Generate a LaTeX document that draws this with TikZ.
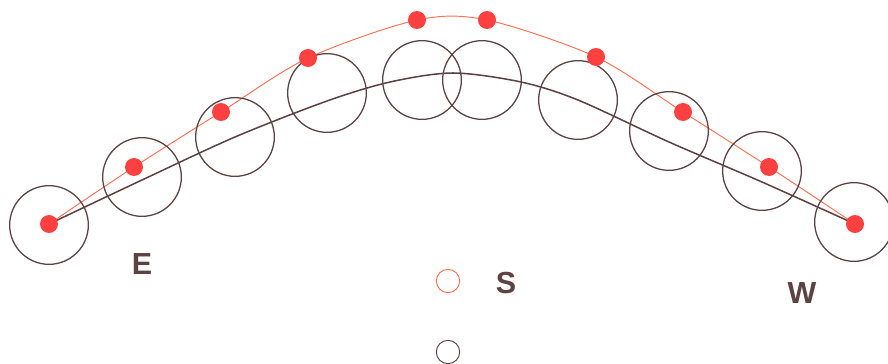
\documentclass[tikz,border=0pt]{standalone}
\usepackage{fontspec}
\setmainfont{Liberation Sans}
\usetikzlibrary{backgrounds}

\definecolor{sunbrown}{RGB}{92,66,66}
\definecolor{sunred}{RGB}{255,64,64}
\definecolor{sunline}{RGB}{255,110,80}

\begin{document}
\begin{tikzpicture}[x=0.03cm,y=-0.03cm,
  disc/.style={circle,draw=sunbrown,line width=1.1pt,minimum size=2.36cm,inner sep=0},
  sun/.style={circle,fill=sunred,minimum size=0.54cm,inner sep=0},
  legend/.style={circle,line width=0.8pt,minimum size=0.7cm,inner sep=0},
  lbl/.style={text=sunbrown,font=\fontsize{26}{28}\selectfont\bfseries}]
\useasboundingbox (0,0) rectangle (888,364);
% apparent disc positions
\foreach \n/\x/\y in {1/49/225,2/142/177,3/235/137,4/327/93,5/422/80,
                      6/482/80,7/578/100,8/669/131,9/762/171,10/854/222}
  \node[disc] (c\n) at (\x,\y) {};
% true sun positions
\foreach \n/\x/\y in {1/49/224,2/134/167,3/221/112,4/308/58,5/417/20,
                      6/487/20,7/596/57,8/683/112,9/769/167,10/855/224}
  \node[sun] (d\n) at (\x,\y) {};
% points of the lower path
\foreach \n/\x/\y in {2/142/180,3/235/137,4/327/101,5/390/82,6/453/73,
                      7/521/82,8/578/100,9/669/142,10/762/182}
  \coordinate (b\n) at (\x,\y);
\begin{pgfonlayer}{background}
\draw[sunbrown,line width=1.3pt] plot[smooth,tension=0.5] coordinates
  {(d1.center) (b2) (b3) (b4) (b5) (b6) (b7) (b8) (b9) (b10) (d10.center)};
\draw[sunline,line width=0.8pt] plot[smooth,tension=0.5] coordinates
  {(d1.center) (d2.center) (d3.center) (d4.center) (d5.center)
   (d6.center) (d7.center) (d8.center) (d9.center) (d10.center)};
\end{pgfonlayer}
% labels and legend
\node[lbl] (east) at (142,264) {E};
\node[lbl] (south) at (506,283) {S};
\node[lbl] (west) at (802,293) {W};
\node[legend,draw=sunline] (keyred) at (448,281) {};
\node[legend,draw=sunbrown] (keybrown) at (448,352) {};
\end{tikzpicture}
\end{document}
